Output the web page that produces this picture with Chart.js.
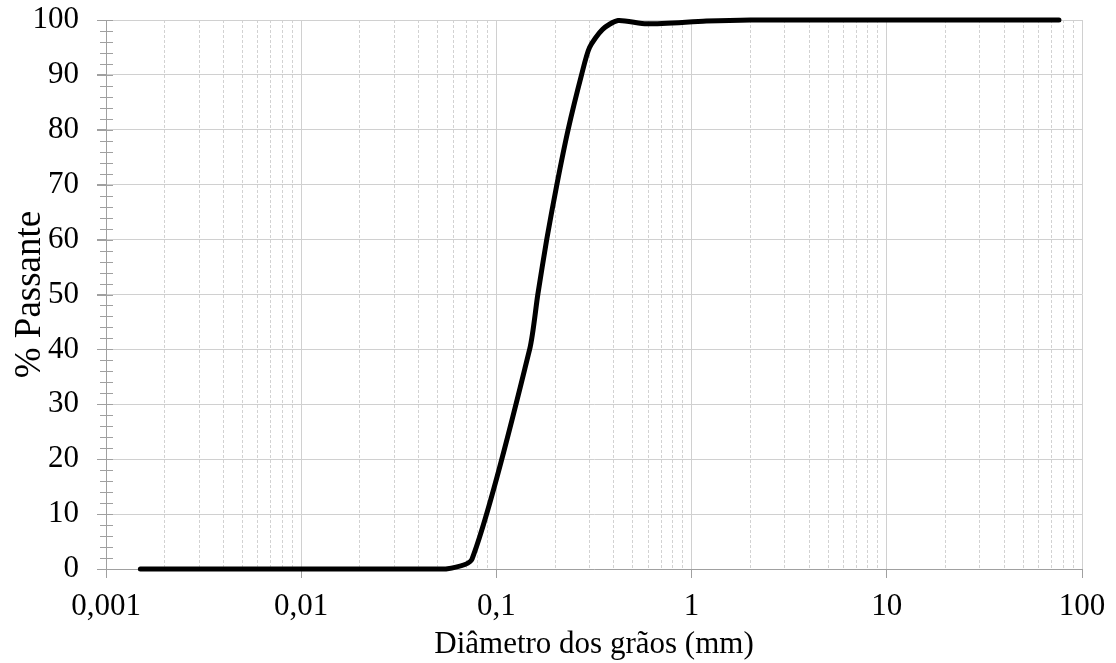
<!DOCTYPE html>
<html>
<head>
<meta charset="utf-8">
<script src="https://cdn.jsdelivr.net/npm/chart.js@4/dist/chart.umd.min.js"></script>
<style>
  html, body { margin: 0; padding: 0; background: #fff; }
  #wrap { width: 1116px; height: 663px; }
</style>
</head>
<body>
<div id="wrap"><canvas id="chart"></canvas></div>
<script>
// grain size distribution
const diameters = [0.0015, 0.003, 0.006, 0.01, 0.02, 0.035, 0.055, 0.075, 0.148, 0.163, 0.181, 0.204, 0.233, 0.273, 0.3, 0.35, 0.42, 0.59, 1.19, 2, 4.76, 9.52, 19.1, 25.4, 38.1, 50.8, 76.2]
const passing = [0, 0, 0, 0, 0, 0, 0, 1.8, 40, 50, 60, 70, 80, 90, 95, 98.3, 99.9, 99.3, 99.8, 100, 100, 100, 100, 100, 100, 100, 100]

const xMajorTicks = [0.001, 0.01, 0.1, 1, 10, 100]
const xMinorTicks = []
xMajorTicks.slice(0, -1).forEach(d => {
  for (let m = 2; m <= 9; m++) xMinorTicks.push(+(d * m).toPrecision(3))
})
const yMinorStep = 2

const serif = "'Liberation Serif', 'Times New Roman', serif"
const axisGray = '#a0a0a0'

// small tick marks crossing the y axis (Excel style)
const yTickMarks = {
  id: 'yTickMarks',
  beforeDatasetsDraw(chart) {
    const y = chart.scales.y
    const left = chart.chartArea.left
    const ctx = chart.ctx
    ctx.save()
    ctx.strokeStyle = axisGray
    ctx.lineWidth = 1
    for (let v = y.min; v <= y.max; v += yMinorStep) {
      const py = Math.round(y.getPixelForValue(v)) + 0.5
      const out = v % 10 === 0 ? 9 : 6
      ctx.beginPath()
      ctx.moveTo(left - out, py)
      ctx.lineTo(left + 7, py)
      ctx.stroke()
    }
    ctx.restore()
  }
}

new Chart(document.getElementById('chart'), {
  type: 'line',
  data: {
    datasets: [{
      data: diameters.map((d, i) => ({ x: d, y: passing[i] })),
      borderColor: '#000',
      borderWidth: 5,
      borderCapStyle: 'round',
      borderJoinStyle: 'round',
      pointRadius: 0,
      tension: 0.25,
      clip: false
    }]
  },
  options: {
    responsive: true,
    maintainAspectRatio: false,
    animation: false,
    layout: { padding: { left: 0, right: 34, top: 20, bottom: 0 } },
    plugins: {
      legend: { display: false },
      tooltip: { enabled: false }
    },
    scales: {
      x2: {
        type: 'logarithmic',
        position: 'bottom',
        min: 0.001,
        max: 100,
        afterBuildTicks: s => { s.ticks = xMinorTicks.map(v => ({ value: v })) },
        afterFit: s => { s.height = 0 },
        ticks: { display: false },
        grid: { color: '#d2d2d2', drawTicks: false },
        border: { display: false, dash: [3, 2] }
      },
      x: {
        type: 'logarithmic',
        position: 'bottom',
        weight: 1,
        min: 0.001,
        max: 100,
        afterBuildTicks: s => { s.ticks = xMajorTicks.map(v => ({ value: v })) },
        afterFit: s => { s.height = 94 },
        ticks: {
          autoSkip: false,
          maxRotation: 0,
          padding: 10,
          color: '#000',
          font: { family: serif, size: 31 },
          callback: v => String(v).replace('.', ',')
        },
        grid: { color: '#d0d0d0', tickColor: axisGray, tickLength: 9 },
        border: { color: axisGray },
        title: {
          display: true,
          text: 'Diâmetro dos grãos (mm)',
          color: '#000',
          font: { family: serif, size: 31 },
          padding: { top: 0, bottom: 0 }
        }
      },
      y: {
        min: 0,
        max: 100,
        afterFit: s => {
          s.width = 106
          s.paddingTop = 0
          s.paddingBottom = 0
        },
        ticks: {
          stepSize: 10,
          padding: 18,
          color: '#000',
          font: { family: serif, size: 31 }
        },
        grid: { color: '#d0d0d0', tickColor: axisGray, tickLength: 9 },
        border: { color: axisGray },
        title: {
          display: true,
          text: '% Passante',
          color: '#000',
          font: { family: serif, size: 37 },
          padding: { top: 8, bottom: 0 }
        }
      }
    }
  },
  plugins: [yTickMarks]
})
</script>
</body>
</html>
